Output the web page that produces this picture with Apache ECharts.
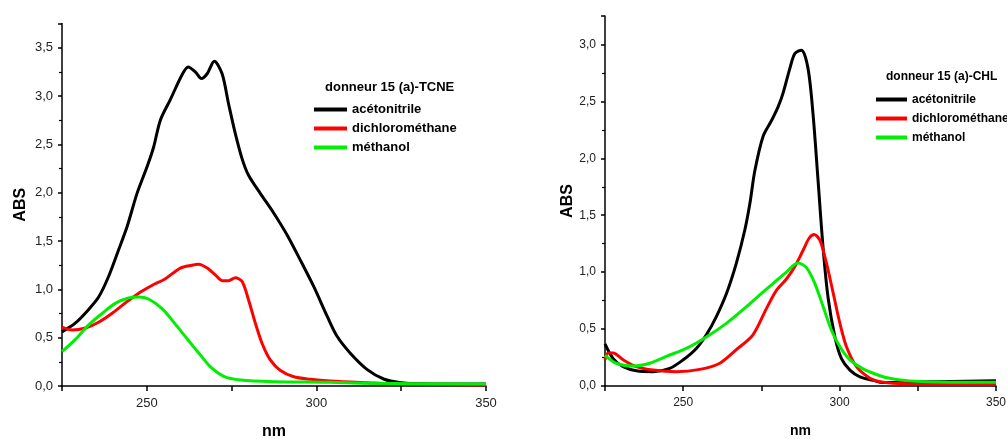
<!DOCTYPE html>
<html>
<head>
<meta charset="utf-8">
<script src="https://cdn.jsdelivr.net/npm/echarts@6/dist/echarts.min.js"></script>
<style>
html,body{margin:0;padding:0;background:#fff;}
#chart{width:1007px;height:439px;}
</style>
</head>
<body>
<div id="chart"></div>
<script>
// ---- Data: left panel (donneur 15 (a)-TCNE) ----
const tcneAcetoNm = [225, 228.9, 232.8, 235.8, 238.7, 241.7, 244.2, 247.1, 250.1, 252, 254, 256.9, 260.4, 262.2, 264.3, 266.1, 267.8, 269.9, 272.2, 274.1, 276.1, 278.1, 280, 283.5, 287.4, 291.4, 295.3, 299.2, 303.2, 306, 310, 315, 320, 325, 330, 340, 350];
const tcneAcetoAbs = [0.56, 0.65, 0.79, 0.92, 1.13, 1.41, 1.65, 1.99, 2.27, 2.47, 2.75, 2.96, 3.22, 3.30, 3.25, 3.18, 3.23, 3.36, 3.23, 2.92, 2.61, 2.35, 2.18, 1.99, 1.79, 1.56, 1.30, 1.03, 0.72, 0.52, 0.34, 0.17, 0.07, 0.034, 0.022, 0.02, 0.02];
const tcneDcmNm = [225, 228, 231.9, 235.8, 239.7, 243.7, 247.6, 251.5, 255.5, 259.9, 263.3, 265.3, 267.8, 270.2, 272.2, 274.1, 276.1, 278.1, 280, 282, 284, 286.4, 289.4, 293.3, 298.2, 304.1, 315, 325, 350];
const tcneDcmAbs = [0.61, 0.58, 0.60, 0.66, 0.75, 0.86, 0.96, 1.04, 1.11, 1.22, 1.25, 1.26, 1.22, 1.15, 1.09, 1.09, 1.12, 1.08, 0.89, 0.65, 0.44, 0.27, 0.16, 0.096, 0.07, 0.052, 0.034, 0.02, 0.01];
const tcneMeohNm = [225, 228.9, 232.8, 236.8, 240.7, 244.6, 247.6, 250.5, 254.5, 258.4, 262.3, 265.8, 268.7, 272.7, 277.6, 287.4, 304.1, 315, 350];
const tcneMeohAbs = [0.355, 0.48, 0.63, 0.75, 0.855, 0.91, 0.92, 0.90, 0.80, 0.64, 0.47, 0.32, 0.20, 0.10, 0.062, 0.045, 0.038, 0.028, 0.02];

// ---- Data: right panel (donneur 15 (a)-CHL) ----
const chlAcetoNm = [225, 227.6, 230.8, 235, 240.4, 245.7, 250, 254.2, 257.4, 260.6, 263.8, 267, 269.7, 271.3, 272.9, 275.5, 278.2, 280.3, 281.9, 284.1, 285.7, 287.8, 289.9, 291.5, 293.1, 294.7, 296.3, 298.5, 300.6, 303.3, 306.5, 310.7, 313.8, 324.5, 350];
const chlAcetoAbs = [0.37, 0.24, 0.17, 0.134, 0.126, 0.155, 0.23, 0.33, 0.45, 0.61, 0.81, 1.08, 1.37, 1.60, 1.89, 2.19, 2.33, 2.45, 2.57, 2.79, 2.92, 2.95, 2.79, 2.39, 1.81, 1.22, 0.78, 0.43, 0.24, 0.14, 0.08, 0.05, 0.03, 0.035, 0.047];
const chlDcmNm = [225, 226, 227.6, 230.8, 235, 240.4, 247.8, 255.3, 261.7, 267, 272.3, 276.6, 279.8, 283, 285.7, 288.3, 290.3, 291.9, 293.7, 295.8, 298, 300.1, 302.2, 305.4, 309.7, 312.9, 319.1, 329.8, 350];
const chlDcmAbs = [0.23, 0.29, 0.29, 0.23, 0.17, 0.14, 0.126, 0.146, 0.20, 0.32, 0.45, 0.68, 0.84, 0.94, 1.05, 1.19, 1.30, 1.33, 1.28, 1.08, 0.81, 0.55, 0.345, 0.17, 0.068, 0.038, 0.023, 0.018, 0.018];
const chlMeohNm = [225, 228.6, 234, 239.3, 244.6, 251, 257.4, 263.8, 269.1, 274.5, 278.7, 283, 286.7, 289.4, 292.1, 294.7, 297.4, 300.1, 303.3, 307.5, 312.9, 316, 322.3, 331.9, 350];
const chlMeohAbs = [0.27, 0.20, 0.175, 0.20, 0.26, 0.33, 0.43, 0.55, 0.67, 0.80, 0.90, 1.00, 1.08, 1.04, 0.90, 0.70, 0.49, 0.345, 0.23, 0.15, 0.09, 0.068, 0.045, 0.035, 0.032];

const seriesNames = ['acétonitrile', 'dichlorométhane', 'méthanol'];
const seriesColors = ['#000000', '#ff0000', '#00ee00'];
const panelTitles = ['donneur 15 (a)-TCNE', 'donneur 15 (a)-CHL'];
const xTickLabels = [250, 300, 350];

function pairs(xs, ys) { return xs.map((x, i) => [x, ys[i]]); }

const FONT = "'Liberation Sans', Arial, sans-serif";

function xAxisCfg(gridIndex, labelSize, nameSize) {
  return {
    type: 'value', gridIndex: gridIndex, min: 225, max: 350, interval: 25,
    name: 'nm', nameLocation: 'middle', nameGap: 38,
    nameTextStyle: { fontFamily: FONT, fontWeight: 'bold', fontSize: nameSize, color: '#000' },
    axisLine: { show: true, onZero: false, lineStyle: { color: '#000', width: 1.5 } },
    axisTick: { show: true, length: 5, lineStyle: { color: '#000', width: 1.5 } },
    axisLabel: {
      margin: 11, fontFamily: FONT, fontSize: labelSize, color: '#222',
      formatter: v => xTickLabels.indexOf(v) >= 0 ? String(v) : ''
    },
    splitLine: { show: false }
  };
}
function yAxisCfg(gridIndex, max, gap, labelSize) {
  return {
    type: 'value', gridIndex: gridIndex, min: 0, max: max, interval: 0.5,
    name: 'ABS', nameLocation: 'middle', nameRotate: 90, nameGap: gap,
    nameTextStyle: { fontFamily: FONT, fontWeight: 'bold', fontSize: 16, color: '#000' },
    axisLine: { show: true, onZero: false, lineStyle: { color: '#000', width: 1.5 } },
    axisTick: { show: true, length: 4, lineStyle: { color: '#000', width: 1.5 } },
    minorTick: { show: true, splitNumber: 2, length: 3, lineStyle: { color: '#000', width: 1.2 } },
    axisLabel: {
      margin: 9, fontFamily: FONT, fontSize: labelSize, color: '#222', showMaxLabel: false,
      formatter: v => v.toFixed(1).replace('.', ',')
    },
    splitLine: { show: false }
  };
}
function lineSeries(name, color, data, idx) {
  return {
    type: 'line', name: name, xAxisIndex: idx, yAxisIndex: idx, data: data,
    showSymbol: false, symbol: 'none', smooth: 0.3,
    lineStyle: { color: color, width: 3 }, itemStyle: { color: color },
    z: name === 'méthanol' ? 3 : (name === 'dichlorométhane' ? 2 : 1)
  };
}
function legendCfg(left, top, fontSize, itemWidth) {
  return {
    data: seriesNames, orient: 'vertical', left: left, top: top, padding: 0,
    icon: 'rect', itemWidth: itemWidth, itemHeight: 4, itemGap: 4,
    textStyle: { fontFamily: FONT, fontWeight: 'bold', fontSize: fontSize, color: '#000', lineHeight: 15, padding: [0, 0, 0, 0] }
  };
}
function titleCfg(text, left, top, fontSize) {
  return {
    text: text, left: left, top: top, padding: 0,
    textStyle: { fontFamily: FONT, fontWeight: 'bold', fontSize: fontSize, color: '#000' }
  };
}

const chart = echarts.init(document.getElementById('chart'), null, { renderer: 'canvas' });
chart.setOption({
  backgroundColor: '#fff',
  animation: false,
  title: [titleCfg(panelTitles[0], 325, 81, 13), titleCfg(panelTitles[1], 886, 71, 12)],
  legend: [legendCfg(314, 102, 13, 33), legendCfg(876, 92, 12, 31)],
  grid: [
    { left: 62, right: 521, top: 23.5, bottom: 53, outerBoundsMode: 'none', containLabel: false },
    { left: 605, right: 11, top: 16, bottom: 53, outerBoundsMode: 'none', containLabel: false }
  ],
  xAxis: [xAxisCfg(0, 13, 16), xAxisCfg(1, 12, 14)],
  yAxis: [yAxisCfg(0, 3.75, 33, 13), yAxisCfg(1, 3.25, 29, 12)],
  series: [
    lineSeries(seriesNames[0], seriesColors[0], pairs(tcneAcetoNm, tcneAcetoAbs), 0),
    lineSeries(seriesNames[1], seriesColors[1], pairs(tcneDcmNm, tcneDcmAbs), 0),
    lineSeries(seriesNames[2], seriesColors[2], pairs(tcneMeohNm, tcneMeohAbs), 0),
    lineSeries(seriesNames[0], seriesColors[0], pairs(chlAcetoNm, chlAcetoAbs), 1),
    lineSeries(seriesNames[1], seriesColors[1], pairs(chlDcmNm, chlDcmAbs), 1),
    lineSeries(seriesNames[2], seriesColors[2], pairs(chlMeohNm, chlMeohAbs), 1)
  ]
});
</script>
</body>
</html>
